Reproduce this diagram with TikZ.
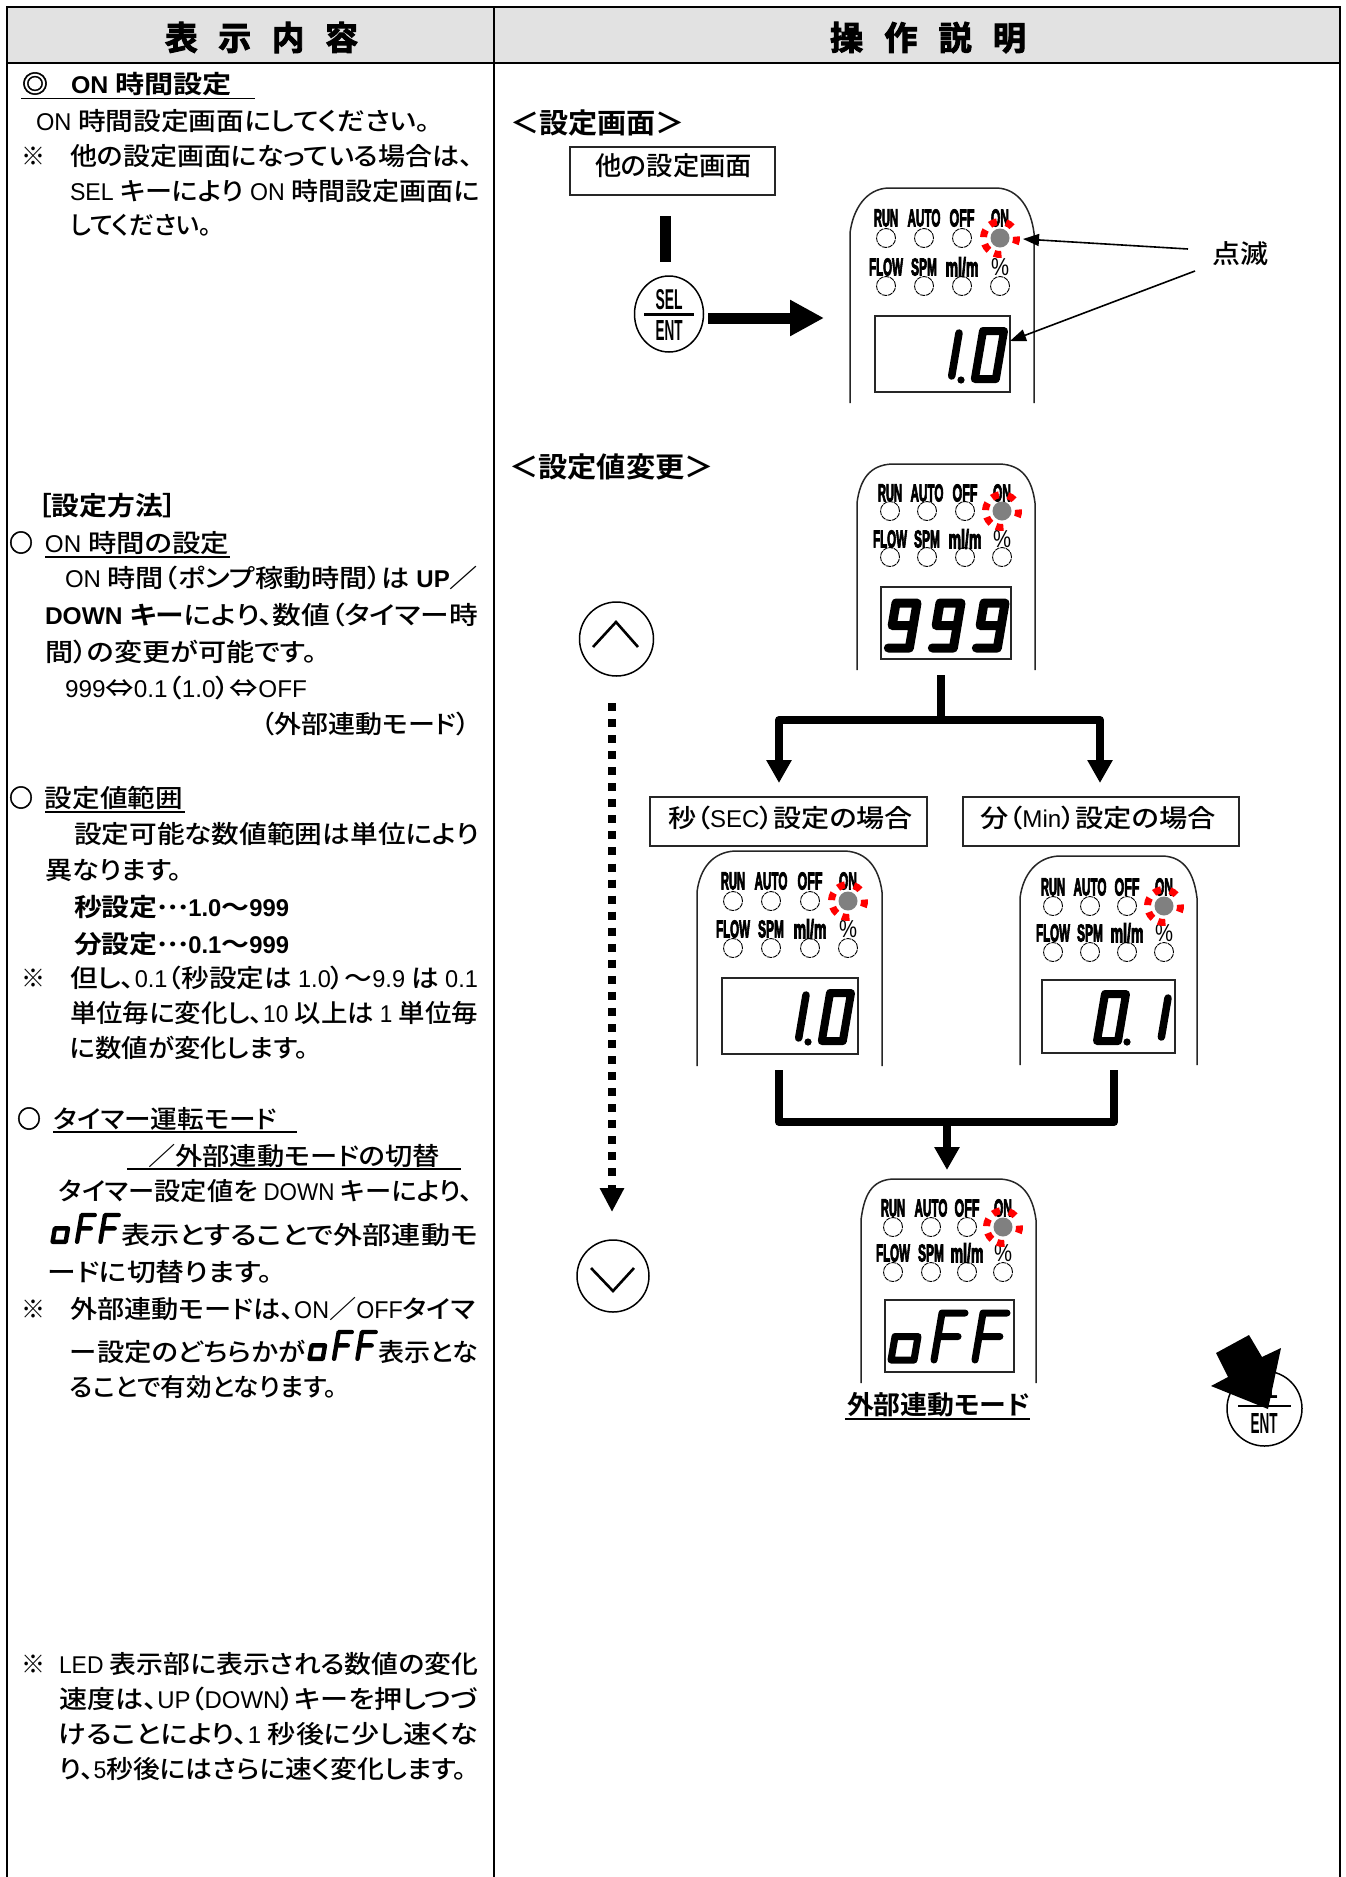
\documentclass[tikz,border=0pt]{standalone}
\usepackage{fontspec}
\usepackage{graphicx}
\usetikzlibrary{arrows.meta,shapes.geometric}
\setmainfont{Noto Sans CJK JP}[UprightFont=* Medium,BoldFont=* Bold,RawFeature=+palt]
\newfontfamily\lat[Scale=0.97,FakeStretch=0.88]{Liberation Sans}
\newcommand\la[1]{{\lat #1}}
\newcounter{tln}
\definecolor{hdrgray}{HTML}{E2E2E2}
\definecolor{ledgray}{HTML}{808080}
\definecolor{flash}{HTML}{FF0000}
\tikzset{
  tbl/.style={line width=2.4pt,black},
  ul/.style={line width=1.8pt,black},
  led/.style={circle,draw,inner sep=0pt,minimum size=19pt,line width=.9pt,dash pattern=on 5pt off .8pt},
  ledon/.style={circle,fill=ledgray,inner sep=0pt,minimum size=19pt},
  frameln/.style={line width=1.5pt,black!85},
  dispbox/.style={line width=1.5pt,black!85},
  capbox/.style={draw,line width=1.6pt,black!85,fill=none,inner sep=0pt},
  flow/.style={line width=8pt,line join=round},
  flowtip/.style={-{Triangle[length=23pt,width=24pt]}},
  thin arrow/.style={line width=1.6pt,-{Triangle[length=16pt,width=12pt]}},
  btn/.style={draw,inner sep=0pt,line width=1.5pt},
  chev/.style={line width=2.6pt},
  plabel/.style={inner sep=0pt,outer sep=0pt},
}
% fitted text line: [size]{x0}{x1}{baseline}{text}
\newcommand\tl[5][25]{\stepcounter{tln}\node[anchor=base west,inner sep=0pt,outer sep=0pt] (t\number\value{tln}) at (#2,#4) {\fontsize{#1}{#1}\selectfont\setbox0=\hbox{#5}\pgfmathsetmacro\tlk{(#3-#2)/\the\wd0}\scalebox{\tlk}[1]{\box0}};}
% panel outline: L R T S B FL FR
\newcommand\panelframe[7]{\draw[frameln] (#1,#5) -- (#1,#4) .. controls ({#1+3},{#4-24}) and ({#6-22},{#3+1}) .. (#6,#3) -- (#7,#3) .. controls ({#7+22},{#3+1}) and ({#2-3},{#4-24}) .. (#2,#4) -- (#2,#5);}
\newcommand\plab[6]{\node[plabel] (#1) at (#2,#3) {\resizebox{#4pt}{#5pt}{\lat\bfseries\addfontfeature{FakeBold=4}#6}};}
% name x1 x2 x3 x4 ylabel1 yled1 ylabel2 yled2
\newcommand\panelleds[9]{%
  \plab{#1-lrun}{#2}{#6}{24}{17}{RUN}
  \plab{#1-lauto}{#3}{#6}{33}{17}{AUTO}
  \plab{#1-loff}{#4}{#6}{25}{17}{OFF}
  \plab{#1-lon}{#5}{#6}{18}{17}{ON}
  \plab{#1-lflow}{#2}{#8}{34}{17}{FLOW}
  \plab{#1-lspm}{#3}{#8}{26}{17}{SPM}
  \plab{#1-lml}{#4}{#8}{33}{19}{ml/m}
  \node[plabel] (#1-lpc) at (#5,#8) {\resizebox{18pt}{17pt}{\lat\%}};
  \node[led] (#1-run) at (#2,#7) {};
  \node[led] (#1-auto) at (#3,#7) {};
  \node[led] (#1-off) at (#4,#7) {};
  \node[ledon] (#1-on) at (#5,#7) {};
  \node[led] (#1-flow) at (#2,#9) {};
  \node[led] (#1-spm) at (#3,#9) {};
  \node[led] (#1-ml) at (#4,#9) {};
  \node[led] (#1-pc) at (#5,#9) {};
  \foreach \a in {-164,-114,-56,8,98,145}{
    \fill[flash] (#5,#7) ++({\a-13}:13) arc[start angle=\a-13,end angle=\a+13,radius=13] -- ++({\a+13}:7) arc[start angle=\a+13,end angle=\a-13,radius=20] -- cycle;
  }
}
\newcommand\dbox[4]{\draw[dispbox] (#1,#2) rectangle (#3,#4);}
\def\seglw{8}
\newcommand\sevenseg[5]{\begin{scope}[shift={(#1,#2)},x=#3pt,y=-#4pt,xslant=.17]\draw[line width=\seglw pt,line join=round,line cap=round] #5;\end{scope}}
\def\dnine{(1,.5) -- (0,.5) -- (0,0) -- (1,0) -- (1,1) -- (0,1)}
\def\dzero{(0,0) -- (1,0) -- (1,1) -- (0,1) -- cycle}
\def\done{(1,0) -- (1,1)}
\def\dF{(1,0) -- (0,0) -- (0,1) (0,.5) -- (.87,.5)}
\def\doo{(0,.5) -- (1,.5) -- (1,1) -- (0,1) -- cycle}
\newcommand\offglyph[4]{\begin{scope}[shift={(#1,#2)},scale=#3]\def\seglw{#4}
  \sevenseg{2}{0}{23}{47}{\doo}
  \sevenseg{45}{0}{23}{47}{\dF}
  \sevenseg{86}{0}{24}{47}{\dF}
\end{scope}}
\begin{document}
\begin{tikzpicture}[x=1pt,y=-1pt]
\useasboundingbox (0,0) rectangle (1346,1877);
\fill[white] (0,0) rectangle (1346,1877);
% table
\fill[hdrgray] (7,7) rectangle (1340,63);
\draw[tbl] (7,1877) -- (7,7) -- (1340,7) -- (1340,1877);
\draw[tbl] (7,63) -- (1340,63);
\draw[tbl] (494,7) -- (494,1877);
% header
\tl[33]{165}{358}{50}{\addfontfeature{FakeBold=3}\bfseries 表\hspace{21pt}示\hspace{21pt}内\hspace{21pt}容}
\tl[33]{830}{1026}{50}{\addfontfeature{FakeBold=3}\bfseries 操\hspace{21pt}作\hspace{21pt}説\hspace{21pt}明}
% left column
\tl{22}{48}{93}{\addfontfeature{FakeBold=2}\bfseries ◎}
\tl{71}{232}{93}{\bfseries\la{ON }時間設定}
\draw[ul] (21,98.5) -- (255,98.5);
\tl{36}{430}{130}{\la{ON }時間設定画面にしてください。}
\tl{22}{46}{165}{\bfseries ※}
\tl{70}{473}{165}{他の設定画面になっている場合は、}
\tl{70}{480}{200}{\la{SEL }キーにより \la{ON }時間設定画面に}
\tl{70}{212}{234}{してください。}
\tl[26]{38}{177}{515}{\bfseries ［設定方法］}
\tl{9}{33}{552}{\addfontfeature{FakeBold=2}\bfseries ○}
\tl{45}{229}{552}{\la{ON }時間の設定}
\draw[ul] (45,557) -- (230,557);
\tl{65}{478}{587}{\la{ON }時間（ポンプ稼動時間）は \bfseries\la{UP}／}
\tl{45}{478}{624}{\bfseries\la{DOWN  }キー\mdseries により、数値（タイマー時}
\tl{45}{317}{661}{間）の変更が可能です。}
\tl{65}{307}{697}{\la{999}⇔\la{0.1}（\la{1.0}）⇔\la{OFF}}
\tl{261}{470}{733}{（外部連動モード）}
\tl{9}{33}{807}{\addfontfeature{FakeBold=2}\bfseries ○}
\tl{45}{183}{807}{設定値範囲}
\draw[ul] (45,812) -- (185,812);
\tl{74}{479}{843}{設定可能な数値範囲は単位により}
\tl{45}{182}{879}{異なります。}
\tl{74}{289}{916}{\bfseries 秒設定\raisebox{.28em}{…}\la{1.0}〜\la{999}}
\tl{74}{289}{953}{\bfseries 分設定\raisebox{.28em}{…}\la{0.1}〜\la{999}}
\tl{22}{46}{987}{\bfseries ※}
\tl{70}{478}{987}{但し、\la{0.1}（秒設定は \la{1.0}）〜\la{9.9} は \la{0.1}}
\tl{70}{478}{1022}{単位毎に変化し、\la{10 }以上は \la{1 }単位毎}
\tl{70}{308}{1057}{に数値が変化します。}
\tl{17}{41}{1128}{\addfontfeature{FakeBold=2}\bfseries ○}
\tl{54}{277}{1128}{タイマー運転モード}
\draw[ul] (53,1132) -- (297,1132);
\tl{148}{440}{1165}{／外部連動モードの切替}
\draw[ul] (127,1169) -- (461,1169);
\tl{59}{473}{1200}{タイマー設定値を \la{DOWN }キーにより、}
\offglyph{56}{1215}{.57}{4.4}
\tl{121}{478}{1244}{表示とすることで外部連動モ}
\tl{48}{273}{1281}{ードに切替ります。}
\tl{22}{46}{1318}{\bfseries ※}
\tl{70}{475}{1318}{外部連動モードは、\la{ON}／\la{OFF}タイマ}
\tl{70}{305}{1361}{ー設定のどちらかが}
\offglyph{313}{1332}{.57}{4.4}
\tl{378}{478}{1361}{表示とな}
\tl{70}{337}{1396}{ることで有効となります。}
\tl{22}{46}{1673}{\bfseries ※}
\tl{59}{478}{1673}{\la{LED  }表示部に表示される数値の変化}
\tl{59}{478}{1708}{速度は、\la{UP}（\la{DOWN}）キーを押しつづ}
\tl{59}{478}{1743}{けることにより、\la{1 }秒後に少し速くな}
\tl{59}{467}{1778}{り、\la{5}秒後にはさらに速く変化します。}
% right column headings
\tl[28]{510}{685}{133}{\bfseries ＜設定画面＞}
\tl[28]{509}{714}{477}{\bfseries ＜設定値変更＞}
% other-screen box
\node[capbox,minimum width=205pt,minimum height=48pt] (other) at (672.5,171) {};
\tl[26]{595}{752}{175}{他の設定画面}
\coordinate (bar1) at (665.5,216);
\coordinate (bar2) at (665.5,262);
\draw[line width=11pt] (bar1) -- (bar2);
\node[btn,ellipse,minimum width=69pt,minimum height=76pt] (sel) at (669,314) {};
\node[plabel] (selt) at (669,300) {\resizebox{27pt}{20pt}{\lat\bfseries SEL}};
\node[plabel] (entt) at (669,330) {\resizebox{27pt}{20pt}{\lat\bfseries ENT}};
\coordinate (seld1) at (644,314);
\coordinate (seld2) at (694,314);
\draw[line width=3pt] (seld1) -- (seld2);
\coordinate (fat1) at (708,318);
\coordinate (fat2) at (824,318);
\draw[line width=11pt,-{Triangle[length=34pt,width=34pt]}] (fat1) -- (fat2);
% panel 1
\panelframe{850}{1034}{188}{233}{403}{888}{997}
\panelleds{p1}{886}{924}{962}{1000}{218}{238}{267}{286}
\dbox{875}{316}{1010}{392}
\sevenseg{983}{331}{21}{48}{\dzero}
\begingroup\def\seglw{7.5}\sevenseg{938}{333}{21}{43}{\done}\endgroup
\fill (961,380) circle (3.6);
\tl[26]{1212}{1268}{263}{点滅}
\coordinate (a1s) at (1188,249);
\coordinate (a1e) at (1023,239);
\coordinate (a2s) at (1195,271);
\coordinate (a2e) at (1010,341);
\draw[thin arrow] (a1s) -- (a1e);
\draw[thin arrow] (a2s) -- (a2e);
% panel 2
\panelframe{857}{1035}{464}{503}{670}{892}{1000}
\panelleds{p2}{890}{927}{965}{1002}{493}{511}{539}{557}
\dbox{881}{587}{1011}{659}
\def\seglw{9}
\sevenseg{896}{603}{21}{45}{\dnine}
\sevenseg{940}{603}{21}{45}{\dnine}
\sevenseg{984}{603}{21}{45}{\dnine}
\def\seglw{8}
% up/down
\node[btn,circle,minimum size=74pt] (up) at (616.5,639) {};
\coordinate (uc1) at (593,647);
\coordinate (uc2) at (616,622);
\coordinate (uc3) at (638,647);
\draw[chev] (uc1) -- (uc2) -- (uc3);
\coordinate (dot1) at (612,703);
\coordinate (dot2) at (612,1177);
\coordinate (dot3) at (612,1185);
\coordinate (dot4) at (612,1212);
\draw[line width=8pt,dash pattern=on 8pt off 8.05pt] (dot1) -- (dot2);
\draw[line width=8pt,-{Triangle[length=24pt,width=23pt]}] (dot3) -- (dot4);
\node[btn,circle,minimum size=72pt] (down) at (613,1276) {};
\coordinate (dc1) at (591,1268);
\coordinate (dc2) at (613,1291);
\coordinate (dc3) at (634,1268);
\draw[chev] (dc1) -- (dc2) -- (dc3);
% split flow
\coordinate (s0) at (941,675);
\coordinate (s1) at (941,720);
\coordinate (s2) at (779,720);
\coordinate (s3) at (779,783);
\coordinate (s4) at (1100,720);
\coordinate (s5) at (1100,783);
\draw[flow] (s0) -- (s1);
\draw[flow,flowtip] (s1) -- (s2) -- (s3);
\draw[flow,flowtip] (s1) -- (s4) -- (s5);
% caption boxes
\node[capbox,minimum width=277pt,minimum height=49pt] (secbox) at (788.5,821.5) {};
\node[capbox,minimum width=276pt,minimum height=49pt] (minbox) at (1101,821.5) {};
\tl[25]{668}{913}{827}{秒（\la{SEC}）設定の場合}
\tl[25]{980}{1216}{827}{分（\la{Min}）設定の場合}
% panel 3
\panelframe{697}{882}{851}{892}{1066}{735}{845}
\panelleds{p3}{733}{771}{810}{848}{881}{901}{929}{948}
\dbox{722}{978}{858}{1054}
\sevenseg{830}{993}{21}{48}{\dzero}
\begingroup\def\seglw{7.5}\sevenseg{785}{995}{21}{43}{\done}\endgroup
\fill (808,1042) circle (3.6);
% panel 4
\panelframe{1020}{1197}{856}{898}{1065}{1059}{1163}
\panelleds{p4}{1053}{1090}{1127}{1164}{887}{906}{933}{952}
\dbox{1042}{980}{1175}{1053}
\sevenseg{1105}{994}{21}{47}{\dzero}
\fill (1127,1042) circle (3.6);
\begingroup\def\seglw{7.5}\sevenseg{1147}{998}{21}{39}{\done}\endgroup
% merge flow
\coordinate (m1) at (779,1070);
\coordinate (m2) at (779,1122);
\coordinate (m3) at (1114,1122);
\coordinate (m4) at (1114,1070);
\coordinate (m5) at (947,1122);
\coordinate (m6) at (947,1170);
\draw[flow] (m1) -- (m2) -- (m3) -- (m4);
\draw[flow,flowtip] (m5) -- (m6);
% panel 5
\panelframe{861}{1036}{1179}{1220}{1383}{893}{1000}
\panelleds{p5}{893}{931}{967}{1003}{1208}{1227}{1253}{1272}
\dbox{885}{1300}{1014}{1372}
\offglyph{897}{1313}{1}{7}
\tl[26]{847}{1030}{1414}{\bfseries 外部連動モード}
\draw[ul] (845,1419) -- (1030,1419);
% ENT button
\node[btn,circle,minimum size=75pt] (ent) at (1264.5,1408.5) {};
\node[plabel] (entsel) at (1264,1390) {\resizebox{27pt}{18pt}{\lat\bfseries SEL}};
\node[plabel] (entent) at (1264,1423) {\resizebox{27pt}{20pt}{\lat\bfseries ENT}};
\coordinate (ed1) at (1238,1406);
\coordinate (ed2) at (1291,1406);
\draw[line width=2.6pt] (ed1) -- (ed2);
\fill (1216,1353) -- (1249,1335) -- (1262,1357) -- (1281,1348) -- (1268,1409) -- (1211,1386) -- (1228,1377) -- cycle;
\end{tikzpicture}
\end{document}
